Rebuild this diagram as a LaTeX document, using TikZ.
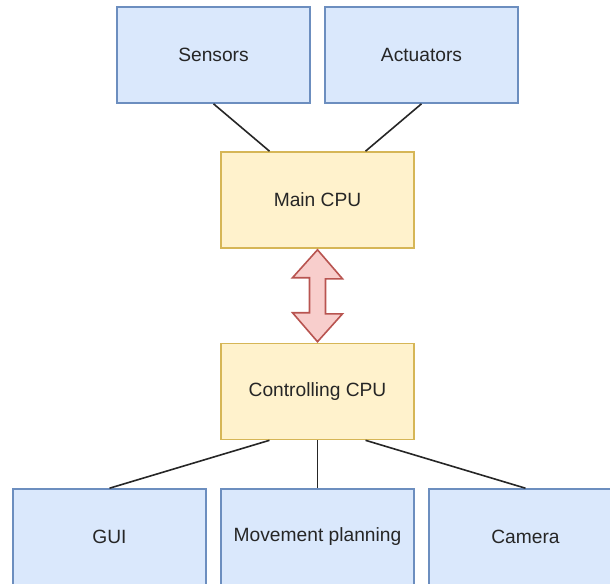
\documentclass[tikz,border=0pt]{standalone}
\usepackage{fontspec}
\setmainfont{Liberation Sans}
\usetikzlibrary{calc}

\definecolor{boxblue}{HTML}{DAE8FC}
\definecolor{lineblue}{HTML}{6C8EBF}
\definecolor{boxyellow}{HTML}{FFF2CC}
\definecolor{lineyellow}{HTML}{D6B656}
\definecolor{boxred}{HTML}{F8CECC}
\definecolor{linered}{HTML}{B85450}

\tikzset{
  unit/.style={rectangle, draw=lineblue, fill=boxblue, line width=1.2pt,
    minimum width=144.75pt, minimum height=72pt, inner sep=0pt,
    font=\fontsize{14.4}{17}\selectfont, text=black!85},
  cpu/.style={unit, draw=lineyellow, fill=boxyellow},
  link/.style={line width=1.2pt, draw=black!85},
  twoway/.style={line width=1.2pt, draw=linered, fill=boxred, line join=miter}
}

\begin{document}
\begin{tikzpicture}[x=0.75pt, y=-0.75pt]
 \useasboundingbox (0,0) rectangle (610,583);
 \clip (0,0) rectangle (610,583);
 \begin{scope}[every node/.style={unit}]
   \node (sensors)   at (213.5,55)  {Sensors};
   \node (actuators) at (421.5,55)  {Actuators};
   \node (main)   [cpu] at (317.5,200)   {Main CPU};
   \node (ctrl)   [cpu] at (317.5,391.5) {Controlling CPU};
   \node (gui)    at (109.5,537) {GUI};
   \node (move)   at (317.5,537) {Movement planning};
   \node (camera) at (525.5,537) {Camera};
 \end{scope}
 \draw [link] (sensors.south)   -- ($(main.north)+(-48,0)$);
 \draw [link] (actuators.south) -- ($(main.north)+(48,0)$);
 \draw [link] ($(ctrl.south)+(-48,0)$) -- (gui.north);
 \draw [link] (ctrl.south) -- (move.north);
 \draw [link] ($(ctrl.south)+(48,0)$) -- (camera.north);
 \draw [twoway] ($(main.south)+(0,1)$) -- ++(25,29) -- ++(-17,0) -- ++(0,35) -- ++(17,0)
   -- ($(ctrl.north)+(0,-1)$) -- ++(-25,-29) -- ++(17,0) -- ++(0,-35) -- ++(-17,0) -- cycle;
\end{tikzpicture}
\end{document}
